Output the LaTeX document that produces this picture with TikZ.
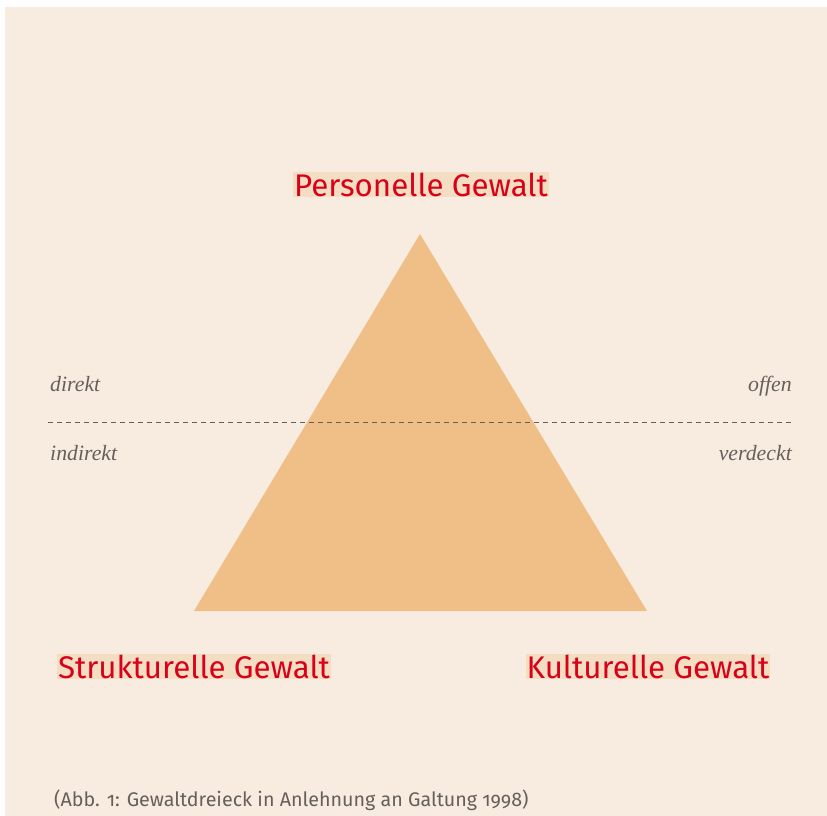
\documentclass[tikz,border=0pt]{standalone}
\usepackage{fontspec}
\setsansfont{Fira Sans}[Numbers=OldStyle]
\newfontfamily\seriffont{Liberation Serif}
\definecolor{paper}{HTML}{F7ECDF}
\definecolor{peach}{HTML}{F0BE87}
\definecolor{tagbg}{HTML}{F3DEC3}
\definecolor{gewaltred}{HTML}{D9001A}
\definecolor{inkgray}{HTML}{675F5C}
\tikzset{
  gewalt/.style={font=\sffamily\fontsize{31.3}{31.3}\selectfont, text=gewaltred,
    fill=tagbg, inner xsep=1pt, inner ysep=1pt, text depth=0pt, anchor=base},
  achse/.style={font=\seriffont\itshape\fontsize{21.8}{21.8}\selectfont, text=inkgray, inner sep=0pt}
}
\begin{document}
\begin{tikzpicture}[x=1pt, y=-1pt]
    \useasboundingbox (0,0) rectangle (827,816);
    \fill[paper] (5,7) rectangle (827,816);
    % Dreieck
    \coordinate (spitze) at (420,234);
    \coordinate (links) at (194,611);
    \coordinate (rechts) at (647,611);
    \fill[peach] (spitze) -- (rechts) -- (links) -- cycle;
    % Trennlinie direkt / indirekt
    \coordinate (linie-l) at (48,422);
    \coordinate (linie-r) at (793,422);
    \draw[inkgray, dash pattern=on 5pt off 4pt, line width=0.8pt] (linie-l) -- (linie-r);
    \node[achse, anchor=base west] (direkt) at (50,391) {direkt};
    \node[achse, anchor=base west] (indirekt) at (50,460) {indirekt};
    \node[achse, anchor=base east] (offen) at (792,391) {offen};
    \node[achse, anchor=base east] (verdeckt) at (792,460) {verdeckt};
    % Ecken
    \node[gewalt] (personell) at (421,196) {Personelle Gewalt};
    \node[gewalt] (strukturell) at (194,678) {Strukturelle Gewalt};
    \node[gewalt] (kulturell) at (648,678) {Kulturelle Gewalt};
    % Bildunterschrift
    \node[font=\sffamily\fontsize{19.7}{19.7}\selectfont, text=inkgray, anchor=base west, inner sep=0pt]
      (abb) at (54,806) {(Abb. 1: Gewaltdreieck in Anlehnung an Galtung 1998)};
\end{tikzpicture}
\end{document}
